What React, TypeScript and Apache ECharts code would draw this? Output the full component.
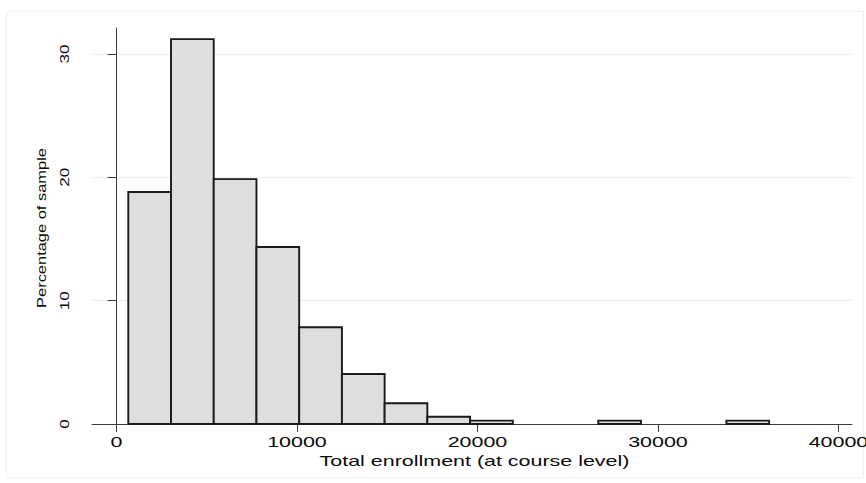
import React, { useEffect, useRef } from "react";
import * as echarts from "echarts";

// Histogram bins (course-level total enrollment) and percentage of sample in each bin
const binEdges = [654, 3021, 5388, 7755, 10122, 12489, 14856, 17223, 19590, 21957, 24324, 26691, 29058, 31425, 33792, 36159];
const percentages = [18.8, 31.2, 19.85, 14.35, 7.84, 4.05, 1.68, 0.59, 0.27, 0, 0, 0.27, 0, 0, 0.27];

const xTickValues = [0, 10000, 20000, 30000, 40000];
const xTickLabels = ["0", "10000", "20000", "30000", "40000"];
const yTickValues = [0, 10, 20, 30];
const yTickLabels = ["0", "10", "20", "30"];
const xAxisTitle = "Total enrollment (at course level)";
const yAxisTitle = "Percentage of sample";

const FONT = "'Liberation Sans', Arial, sans-serif";
const TEXT_COLOR = "#0a0a0a";

export default function App() {
  const ref = useRef<HTMLDivElement>(null);

  useEffect(() => {
    if (!ref.current) return;
    const chart = echarts.init(ref.current, null, { renderer: "svg" });

    const data = percentages
      .map((p, i) => [binEdges[i], binEdges[i + 1], p])
      .filter((d) => d[2] > 0);

    chart.setOption({
      animation: false,
      backgroundColor: "#ffffff",
      grid: { left: 92, right: 14, top: 28, bottom: 59, containLabel: false },
      xAxis: {
        type: "value",
        min: -1357,
        max: 40750,
        axisLine: { show: true, lineStyle: { color: "#3c3c3c", width: 1 } },
        axisTick: { show: true, length: 8, customValues: xTickValues, lineStyle: { color: "#3c3c3c", width: 1 } },
        axisLabel: { show: false },
        splitLine: { show: false },
      },
      yAxis: {
        type: "value",
        min: 0,
        max: 32.1,
        interval: 10,
        axisLine: { show: true, lineStyle: { color: "#3c3c3c", width: 1 } },
        axisTick: { show: true, length: 9, customValues: yTickValues, lineStyle: { color: "#3c3c3c", width: 1 } },
        axisLabel: { show: false },
        splitLine: { show: true, lineStyle: { color: "#ececec", width: 1.2 } },
      },
      series: [
        {
          type: "custom",
          data,
          encode: { x: [0, 1], y: 2 },
          clip: false,
          renderItem: (params: any, api: any) => {
            const x0 = api.value(0);
            const x1 = api.value(1);
            const v = api.value(2);
            const p0 = api.coord([x0, v]);
            const p1 = api.coord([x1, 0]);
            return {
              type: "rect",
              shape: { x: p0[0], y: p0[1], width: p1[0] - p0[0], height: p1[1] - p0[1] },
              style: { fill: "#dedede", stroke: "#1a1a1a", lineWidth: 1.9 },
            };
          },
        },
      ],
    });

    const graphics: any[] = [
      {
        type: "rect",
        silent: true,
        z: -10,
        shape: { x: 6.5, y: 11.5, width: 857, height: 466 },
        style: { fill: "none", stroke: "#efefef", lineWidth: 1 },
      },
    ];

    xTickValues.forEach((v, i) => {
      const px = chart.convertToPixel({ xAxisIndex: 0 }, v) as number;
      graphics.push({
        type: "text",
        x: px,
        y: 442,
        scaleX: 1.48,
        style: {
          text: xTickLabels[i],
          fontFamily: FONT,
          fontSize: 14.5,
          fill: TEXT_COLOR,
          align: "center",
          verticalAlign: "middle",
        },
      });
    });

    yTickValues.forEach((v, i) => {
      const py = chart.convertToPixel({ yAxisIndex: 0 }, v) as number;
      graphics.push({
        type: "text",
        x: 64,
        y: py,
        rotation: Math.PI / 2,
        scaleX: 1.27,
        style: {
          text: yTickLabels[i],
          fontFamily: FONT,
          fontSize: 13.5,
          fill: TEXT_COLOR,
          align: "center",
          verticalAlign: "middle",
        },
      });
    });

    graphics.push({
      type: "text",
      x: 474.5,
      y: 461,
      scaleX: 1.48,
      style: {
        text: xAxisTitle,
        fontFamily: FONT,
        fontSize: 14.5,
        fill: TEXT_COLOR,
        align: "center",
        verticalAlign: "middle",
      },
    });

    graphics.push({
      type: "text",
      x: 41,
      y: 228,
      rotation: Math.PI / 2,
      scaleX: 1.2,
      style: {
        text: yAxisTitle,
        fontFamily: FONT,
        fontSize: 13.7,
        fill: TEXT_COLOR,
        align: "center",
        verticalAlign: "middle",
      },
    });

    chart.setOption({ graphic: graphics });

    return () => {
      chart.dispose();
    };
  }, []);

  return (
    <div
      ref={ref}
      style={{ position: "fixed", left: 0, top: 0, width: 866, height: 483, background: "#fff" }}
    />
  );
}
